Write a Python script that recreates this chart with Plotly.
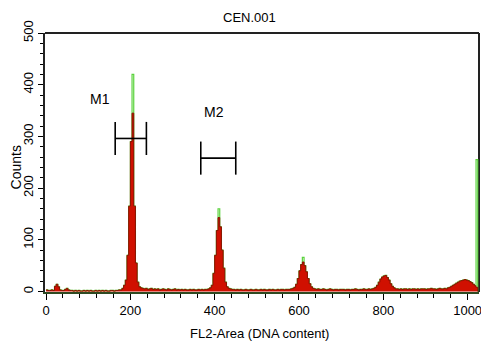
import numpy as np
import plotly.graph_objects as go

# ---- data -------------------------------------------------------------
bin_width_channels = 4  # each value covers 4 channels (0..1023)

red_counts = [
    3, 2, 2, 3, 2, 10, 14, 9, 3, 2, 2, 4, 6, 3, 2, 2,              # 0-60
    1, 2, 1, 2, 1, 1, 2, 1, 2, 1, 2, 1, 1, 2, 1, 2,                # 64-124
    1, 2, 1, 2, 1, 1, 2, 2, 1, 2, 2, 3, 3, 6, 12, 22,              # 128-188
    70, 165, 290, 345, 165, 55, 18, 9, 7, 6, 5, 6, 4, 5, 6, 4,     # 192-252
    5, 4, 5, 3, 4, 5, 4, 3, 5, 4, 3, 4, 5, 3, 4, 3,                # 256-316
    4, 3, 4, 3, 3, 4, 3, 4, 3, 3, 4, 3, 4, 3, 4, 4,                # 320-380
    5, 7, 12, 35, 70, 118, 143, 125, 80, 45, 18, 9, 6, 5, 4, 4,    # 384-444
    3, 4, 3, 4, 3, 3, 4, 3, 3, 4, 3, 3, 4, 3, 3, 4,                # 448-508
    3, 4, 3, 3, 4, 3, 4, 3, 3, 4, 3, 4, 4, 3, 4, 4,                # 512-572
    4, 5, 6, 8, 14, 25, 40, 52, 57, 50, 38, 25, 15, 9, 6, 5,       # 576-636
    4, 5, 4, 4, 5, 4, 3, 4, 5, 4, 3, 4, 4, 3, 4, 4,                # 640-700
    4, 3, 4, 4, 3, 4, 4, 5, 4, 3, 4, 4, 5, 4, 4, 5,                # 704-764
    4, 5, 6, 8, 12, 18, 24, 28, 30, 31, 27, 22, 15, 10, 7, 5,      # 768-828
    5, 4, 5, 4, 5, 5, 4, 5, 4, 5, 5, 4, 5, 4, 5, 5,                # 832-892
    5, 4, 5, 5, 6, 5, 5, 4, 5, 6, 5, 5, 6, 5, 7, 8,                # 896-956
    10, 12, 14, 16, 18, 20, 21, 22, 23, 22, 21, 19, 17, 14, 11, 8, # 960-1020
]

# second (green) overlay: same as red except where it rises above it
green_peak_bins = [51, 102, 152, 255]
green_peak_counts = [420, 160, 66, 255]

marker_labels = ["M1", "M2"]
marker_lo = [164, 367]
marker_hi = [238, 450]
marker_level = [296, 258]

x_ticks = [0, 200, 400, 600, 800, 1000]
y_ticks = [0, 100, 200, 300, 400, 500]

# ---- build --------------------------------------------------------------
green_counts = list(red_counts)
for b, c in zip(green_peak_bins, green_peak_counts):
    green_counts[b] = c

edges = np.arange(len(red_counts) + 1) * bin_width_channels
red_y = red_counts + [0]
green_y = green_counts + [0]

FONT = "Liberation Sans Narrow, Arial Narrow, Liberation Sans, Arial, sans-serif"

fig = go.Figure()
fig.add_trace(go.Scatter(
    x=edges, y=green_y, mode="lines", line_shape="hv",
    line=dict(color="#5ad23c", width=1.2), hoverinfo="skip", showlegend=False))
fig.add_trace(go.Scatter(
    x=edges, y=red_y, mode="lines", line_shape="hv", fill="tozeroy",
    fillcolor="#d01000", line=dict(color="#8a1000", width=1),
    hoverinfo="skip", showlegend=False))

bar_half = 32
for name, lo, hi, lvl in zip(marker_labels, marker_lo, marker_hi, marker_level):
    fig.add_trace(go.Scatter(
        x=[lo, hi, None, lo, lo, None, hi, hi],
        y=[lvl, lvl, None, lvl - bar_half, lvl + bar_half, None,
           lvl - bar_half, lvl + bar_half],
        mode="lines", line=dict(color="black", width=1.6),
        hoverinfo="skip", showlegend=False))

label_pos = {"M1": (129, 372), "M2": (398, 347)}
for name in marker_labels:
    lx, ly = label_pos[name]
    fig.add_annotation(x=lx, y=ly, xref="x", yref="y", text=name,
                       showarrow=False, font=dict(family=FONT, size=14, color="black"))

fig.add_annotation(x=0.472, y=1.058, xref="paper", yref="paper", text="CEN.001",
                   showarrow=False, yanchor="middle",
                   font=dict(family=FONT, size=13, color="black"))
fig.add_annotation(x=0.495, y=-0.162, xref="paper", yref="paper",
                   text="FL2-Area (DNA content)", showarrow=False, yanchor="middle",
                   font=dict(family=FONT, size=13, color="black"))
fig.add_annotation(x=-0.068, y=0.483, xref="paper", yref="paper", text="Counts",
                   textangle=-90, showarrow=False, xanchor="center",
                   font=dict(family=FONT, size=14, color="black"))

# frame (top and right)
fig.add_shape(type="line", xref="paper", yref="paper", x0=0, x1=1, y0=1, y1=1,
              line=dict(color="#222", width=2))
fig.add_shape(type="line", xref="paper", yref="paper", x0=1, x1=1, y0=0, y1=1,
              line=dict(color="#222", width=2), layer="below")

fig.update_layout(
    width=481, height=345,
    margin=dict(l=45, r=2, t=33, b=53, autoexpand=False),
    paper_bgcolor="white", plot_bgcolor="white",
    font=dict(family=FONT, size=13, color="black"),
)
fig.update_xaxes(
    range=[-2.5, 1027], tickvals=x_ticks, ticks="outside", ticklen=6,
    tickcolor="black", showgrid=False, zeroline=False, showline=True,
    linecolor="#2e4a22", linewidth=1.5, ticklabeloverflow="allow",
    minor=dict(dtick=40, tick0=0, ticks="outside", ticklen=4, tickcolor="black"),
    tickfont=dict(family=FONT, size=13), fixedrange=True)
fig.update_yaxes(
    range=[-1, 500], tickvals=y_ticks, ticks="outside", ticklen=5,
    tickcolor="black", showgrid=False, zeroline=False, showline=True,
    linecolor="#222", linewidth=1.5, tickangle=-90,
    ticklabeloverflow="allow",
    minor=dict(dtick=20, tick0=0, ticks="outside", ticklen=3, tickcolor="black"),
    tickfont=dict(family=FONT, size=13), fixedrange=True)

fig.write_html(
    "out.html",
    config={"displayModeBar": False},
    post_script="document.body.style.margin='0';document.body.style.overflow='hidden';",
)
